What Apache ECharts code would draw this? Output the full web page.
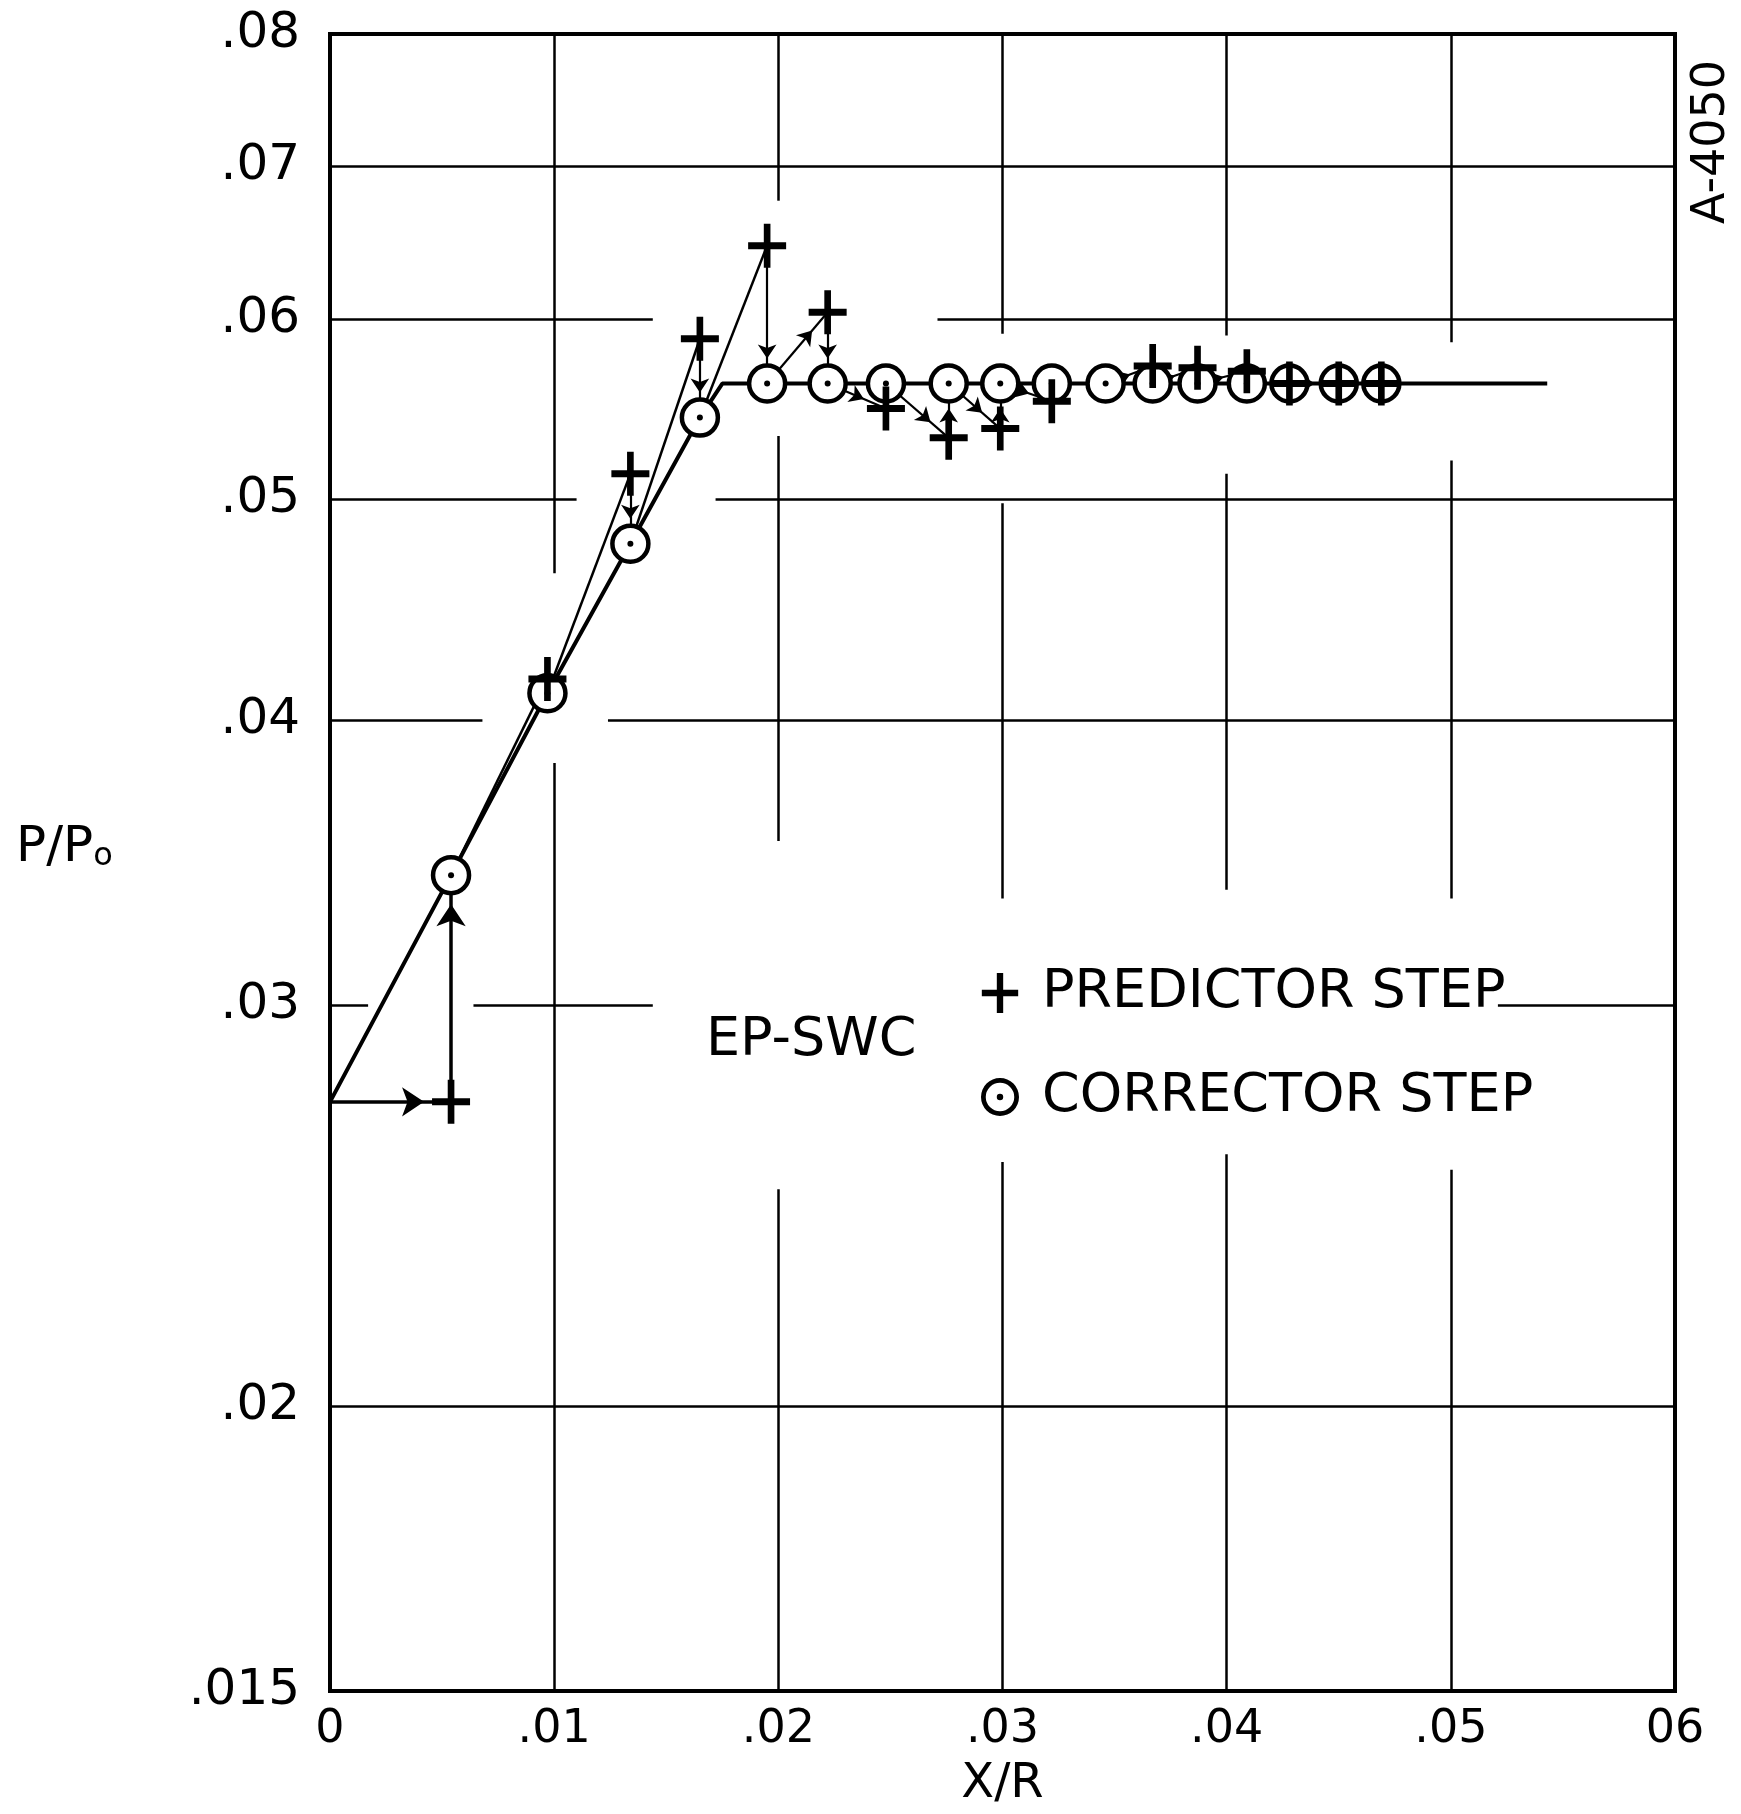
<!DOCTYPE html>
<html>
<head>
<meta charset="utf-8">
<title>EP-SWC predictor / corrector steps</title>
<script src="https://cdn.jsdelivr.net/npm/echarts@6/dist/echarts.min.js"></script>
<style>
  html, body { margin: 0; padding: 0; background: #fff; }
  #chart { width: 1741px; height: 1814px; }
</style>
</head>
<body>
<div id="chart"></div>
<script>
// x/R stations of the marching steps
const xSteps = [0.0054, 0.0097, 0.0134, 0.0165, 0.0195, 0.0222, 0.0248, 0.0276, 0.0299,
  0.0322, 0.0346, 0.0367, 0.0387, 0.0409, 0.0428, 0.0450, 0.0469]
// P/Po after the corrector step
const correctorP = [0.0342, 0.0411, 0.0478, 0.0543, 0.0562, 0.0562, 0.0562, 0.0562, 0.0562,
  0.0562, 0.0562, 0.0562, 0.0562, 0.0562, 0.0562, 0.0562, 0.0562]
// P/Po after the predictor step (none visible at the 11th station)
const predictorP = [0.0272, 0.0417, 0.0513, 0.0588, 0.0646, 0.0604, 0.0548, 0.0532, 0.0537,
  0.0552, null, 0.0572, 0.0571, 0.0569, 0.0562, 0.0562, 0.0562]

// inflow value and the faired solution curve
const startPoint = [0, 0.0272]
const solutionBend = [0.0175, 0.0562]
const solutionEnd = [0.0543, 0.0562]

const xTicks = [0, 0.01, 0.02, 0.03, 0.04, 0.05, 0.06]
const xTickLabels = ['0', '.01', '.02', '.03', '.04', '.05', '06']
const yTicks = [0.015, 0.02, 0.03, 0.04, 0.05, 0.06, 0.07, 0.08]
const yTickLabels = ['.015', '.02', '.03', '.04', '.05', '.06', '.07', '.08']

// hand drawn grid, broken where it runs into lettering and curves
// [y, xFrom, xTo]
const hGridRuns = [
  [0.07, 0, 0.06],
  [0.06, 0, 0.0144], [0.06, 0.0271, 0.06],
  [0.05, 0, 0.0110], [0.05, 0.0172, 0.06],
  [0.04, 0, 0.0068], [0.04, 0.0124, 0.06],
  [0.03, 0, 0.0017], [0.03, 0.0064, 0.0144], [0.03, 0.0521, 0.06],
  [0.02, 0, 0.06]
]
// [x, yFrom, yTo]
const vGridRuns = [
  [0.01, 0.015, 0.0383], [0.01, 0.0464, 0.08],
  [0.02, 0.015, 0.0249], [0.02, 0.0354, 0.0533], [0.02, 0.0676, 0.08],
  [0.03, 0.015, 0.0256], [0.03, 0.0334, 0.0498], [0.03, 0.0591, 0.08],
  [0.04, 0.015, 0.0258], [0.04, 0.0337, 0.0513], [0.04, 0.0590, 0.08],
  [0.05, 0.015, 0.0254], [0.05, 0.0334, 0.0520], [0.05, 0.0586, 0.08]
]

const FONT = 'DejaVu Sans'
const plusIcon = 'path://M16.5,0 L23.5,0 L23.5,18.5 L40,18.5 L40,25.5 L23.5,25.5 L23.5,44 L16.5,44 L16.5,25.5 L0,25.5 L0,18.5 L16.5,18.5 Z'
const ringIcon = 'path://M0,10 A10,10 0 1,0 20,10 A10,10 0 1,0 0,10 Z M2.5,10 A7.5,7.5 0 1,1 17.5,10 A7.5,7.5 0 1,1 2.5,10 Z M8.3,10 A1.7,1.7 0 1,0 11.7,10 A1.7,1.7 0 1,0 8.3,10 Z'

const corr = i => [xSteps[i], correctorP[i]]
const pred = i => [xSteps[i], predictorP[i]]
const seg = (a, b, back) => [{ coord: a }, { coord: b, symbolOffset: [0, back || 0] }]

// each step: ray from the last corrector value to the predictor, then drop to the corrector
const raysPlain = []
const raysArrow = []
const drops = []
for (let i = 1; i < xSteps.length; i++) {
  if (predictorP[i] == null) continue
  if (i <= 4) raysPlain.push(seg(corr(i - 1), pred(i)))
  else raysArrow.push(seg(corr(i - 1), pred(i), 24))
  if (i > 1 && Math.abs(Math.log10(predictorP[i] / correctorP[i])) > 0.012) {
    drops.push(seg(pred(i), corr(i), 25))
  }
}
const firstStep = [seg(startPoint, pred(0), 27), seg(pred(0), corr(0), 29)]

const solutionData = [startPoint, corr(0), corr(1), corr(2), corr(3), solutionBend, solutionEnd]

const gridLines = [
  ...hGridRuns.map(([y, x1, x2]) => seg([x1, y], [x2, y])),
  ...vGridRuns.map(([x, y1, y2]) => seg([x, y1], [x, y2]))
]

const chart = echarts.init(document.getElementById('chart'))

const option = {
  animation: false,
  backgroundColor: '#fff',
  grid: {
    left: 330, right: 66, top: 34, bottom: 115,
    show: true, borderColor: '#000', borderWidth: 4
  },
  xAxis: {
    type: 'value', min: 0, max: 0.06, interval: 0.01,
    axisLine: { show: false },
    axisTick: { show: false },
    splitLine: { show: false },
    axisLabel: {
      margin: 16, color: '#000', fontFamily: FONT, fontSize: 46,
      formatter: v => xTickLabels[xTicks.indexOf(Math.round(v * 100) / 100)]
    },
    name: 'X/R', nameLocation: 'middle', nameGap: 70,
    nameTextStyle: { color: '#000', fontFamily: FONT, fontSize: 48 }
  },
  yAxis: {
    type: 'log', logBase: 10, min: 0.015, max: 0.08,
    axisLine: { show: false },
    axisTick: { show: false },
    splitLine: { show: false },
    axisLabel: { show: false }
  },
  legend: {
    orient: 'vertical', left: 976, top: 961,
    itemGap: 50, itemWidth: 38, itemHeight: 40,
    selectedMode: false,
    textStyle: { color: '#000', fontFamily: FONT, fontSize: 54, padding: [0, 0, 0, 18] },
    data: [
      { name: 'PREDICTOR STEP', icon: plusIcon, itemStyle: { color: '#000', opacity: 1 } },
      { name: 'CORRECTOR STEP', icon: ringIcon, itemStyle: { color: '#000', borderWidth: 0, opacity: 1 } }
    ]
  },
  graphic: [
    {
      type: 'text', x: 706, y: 1041,
      style: { text: 'EP-SWC', fill: '#000', fontFamily: FONT, fontSize: 54, verticalAlign: 'middle' }
    },
    {
      type: 'text', x: 16, y: 848,
      style: {
        text: 'P/P{o|o}', fill: '#000', fontFamily: FONT, fontSize: 50, verticalAlign: 'middle',
        rich: { o: { fontFamily: FONT, fontSize: 32, verticalAlign: 'bottom', fill: '#000' } }
      }
    },
    {
      type: 'text', x: 1712, y: 142, rotation: Math.PI / 2,
      style: { text: 'A-4050', fill: '#000', fontFamily: FONT, fontSize: 46, align: 'center', verticalAlign: 'middle' }
    }
  ],
  series: [
    {
      name: 'grid', type: 'line', data: [], silent: true,
      markLine: {
        silent: true, z: 1, symbol: 'none', label: { show: false },
        lineStyle: { color: '#000', width: 2.5, type: 'solid' },
        emphasis: { disabled: true },
        data: gridLines
      }
    },
    {
      name: 'ticks', type: 'line', data: [], silent: true,
      markLine: {
        silent: true, z: 1, symbol: 'none', precision: 5,
        lineStyle: { color: 'rgba(0,0,0,0)', width: 0 },
        label: { show: true, position: 'start', distance: 30, formatter: '{b}',
          color: '#000', fontFamily: FONT, fontSize: 50 },
        emphasis: { disabled: true },
        data: yTicks.map((v, i) => ({ yAxis: v, name: yTickLabels[i] }))
      }
    },
    {
      name: 'solution', type: 'line', data: solutionData, z: 2,
      showSymbol: false, silent: true,
      lineStyle: { color: '#000', width: 4 }
    },
    {
      name: 'first step', type: 'line', data: [], silent: true,
      markLine: {
        silent: true, z: 3, symbol: ['none', 'arrow'], symbolSize: 22,
        label: { show: false }, emphasis: { disabled: true },
        lineStyle: { color: '#000', width: 3.5, type: 'solid' },
        data: firstStep
      }
    },
    {
      name: 'predictor rays', type: 'line', data: [], silent: true,
      markLine: {
        silent: true, z: 3, symbol: 'none',
        label: { show: false }, emphasis: { disabled: true },
        lineStyle: { color: '#000', width: 2.5, type: 'solid' },
        data: raysPlain
      }
    },
    {
      name: 'predictor arrows', type: 'line', data: [], silent: true,
      markLine: {
        silent: true, z: 3, symbol: ['none', 'arrow'], symbolSize: 14,
        label: { show: false }, emphasis: { disabled: true },
        lineStyle: { color: '#000', width: 2.2, type: 'solid' },
        data: [...raysArrow, ...drops]
      }
    },
    {
      name: 'CORRECTOR STEP', type: 'scatter', z: 4, silent: true,
      data: xSteps.map((x, i) => corr(i)),
      symbol: 'circle', symbolSize: 36,
      itemStyle: { color: '#fff', borderColor: '#000', borderWidth: 4.5, opacity: 1 }
    },
    {
      name: 'corrector dot', type: 'scatter', z: 5, silent: true,
      data: xSteps.map((x, i) => corr(i)),
      symbol: 'circle', symbolSize: 6,
      itemStyle: { color: '#000', opacity: 1 }
    },
    {
      name: 'PREDICTOR STEP', type: 'scatter', z: 6, silent: true,
      data: xSteps.map((x, i) => pred(i)).filter(p => p[1] != null),
      symbol: plusIcon, symbolSize: [38, 44],
      itemStyle: { color: '#000', opacity: 1 }
    }
  ]
}

chart.setOption(option)
</script>
</body>
</html>
